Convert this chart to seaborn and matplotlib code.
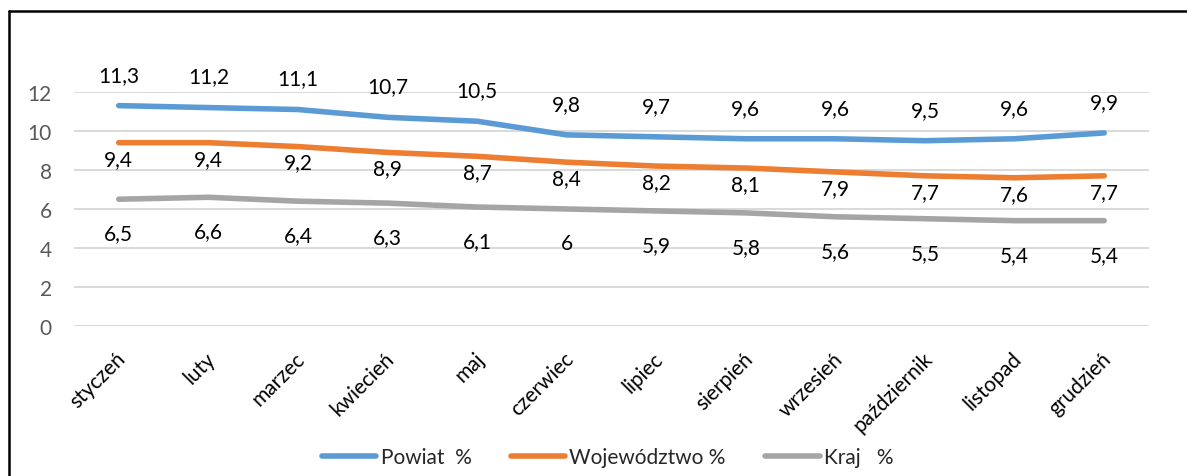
import pandas as pd
import seaborn as sns
import matplotlib.pyplot as plt
from matplotlib.lines import Line2D
from matplotlib.transforms import ScaledTranslation

# dane
miesiace = ['styczeń', 'luty', 'marzec', 'kwiecień', 'maj', 'czerwiec',
            'lipiec', 'sierpień', 'wrzesień', 'październik', 'listopad', 'grudzień']
powiat = [11.3, 11.2, 11.1, 10.7, 10.5, 9.8, 9.7, 9.6, 9.6, 9.5, 9.6, 9.9]
wojewodztwo = [9.4, 9.4, 9.2, 8.9, 8.7, 8.4, 8.2, 8.1, 7.9, 7.7, 7.6, 7.7]
kraj = [6.5, 6.6, 6.4, 6.3, 6.1, 6.0, 5.9, 5.8, 5.6, 5.5, 5.4, 5.4]
serie = ['Powiat  %', 'Województwo %', 'Kraj   %']
kolory = ['#5B9BD5', '#ED7D31', '#A5A5A5']

df = pd.DataFrame({
    'miesiac': miesiace * 3,
    'wartosc': powiat + wojewodztwo + kraj,
    'seria': [s for s in serie for _ in miesiace],
})

sns.set_style('white')
plt.rcParams['font.family'] = ['Lato', 'DejaVu Sans']
FS = 15

fig = plt.figure(figsize=(11.87, 4.77), dpi=100)
ax = fig.add_axes([0.0623, 0.3145, 0.9057, 0.4906])

sns.lineplot(data=df, x='miesiac', y='wartosc', hue='seria', palette=kolory,
             sort=False, linewidth=4, ax=ax, legend=False)
for line in ax.lines:
    line.set_solid_capstyle('round')
    line.set_solid_joinstyle('round')

ax.set_xlim(-0.5, 11.5)
ax.set_ylim(0, 12)
ax.set_yticks(range(0, 13, 2))
ax.yaxis.grid(True, color='#D9D9D9', linewidth=1.4)
ax.xaxis.grid(False)
for sp in ax.spines.values():
    sp.set_visible(False)
ax.set_xlabel('')
ax.set_ylabel('')
ax.tick_params(axis='y', length=0, pad=16, labelsize=FS, labelcolor='#595959')
ax.tick_params(axis='x', length=0, pad=16, labelsize=FS, labelcolor='#000000')
ax.set_xticks(range(len(miesiace)))
ax.set_xticklabels(miesiace, rotation=45, ha='right', va='top',
                   rotation_mode='anchor')
przes = ScaledTranslation(-3 / 100, 0, fig.dpi_scale_trans)
for lab in ax.get_xticklabels():
    lab.set_transform(lab.get_transform() + przes)

# etykiety danych
def fmt(v):
    return ('%g' % v).replace('.', ',')

przesuniecia = [31, -16, -34]
for wartosci, dy in zip([powiat, wojewodztwo, kraj], przesuniecia):
    for i, v in enumerate(wartosci):
        ax.annotate(fmt(v), (i, v), xytext=(0, dy), textcoords='offset pixels',
                    ha='center', va='center', fontsize=FS, color='#000000',
                    annotation_clip=False)

# legenda
uchwyty = [Line2D([0], [0], color=c, linewidth=4, solid_capstyle='round')
           for c in kolory]
fig.legend(uchwyty, serie, loc='center', bbox_to_anchor=(0.512, 0.04),
           ncol=3, frameon=False, fontsize=FS, handlelength=2.6,
           handletextpad=0.2, columnspacing=1.9)

# ramka
fig.add_artist(Line2D([0.0072, 0.0072], [0, 0.975], color='black', linewidth=1.8,
                      transform=fig.transFigure))
fig.add_artist(Line2D([0.0072, 1.0], [0.975, 0.975], color='black', linewidth=1.8,
                      transform=fig.transFigure))

fig.savefig('out.png', dpi=100)
